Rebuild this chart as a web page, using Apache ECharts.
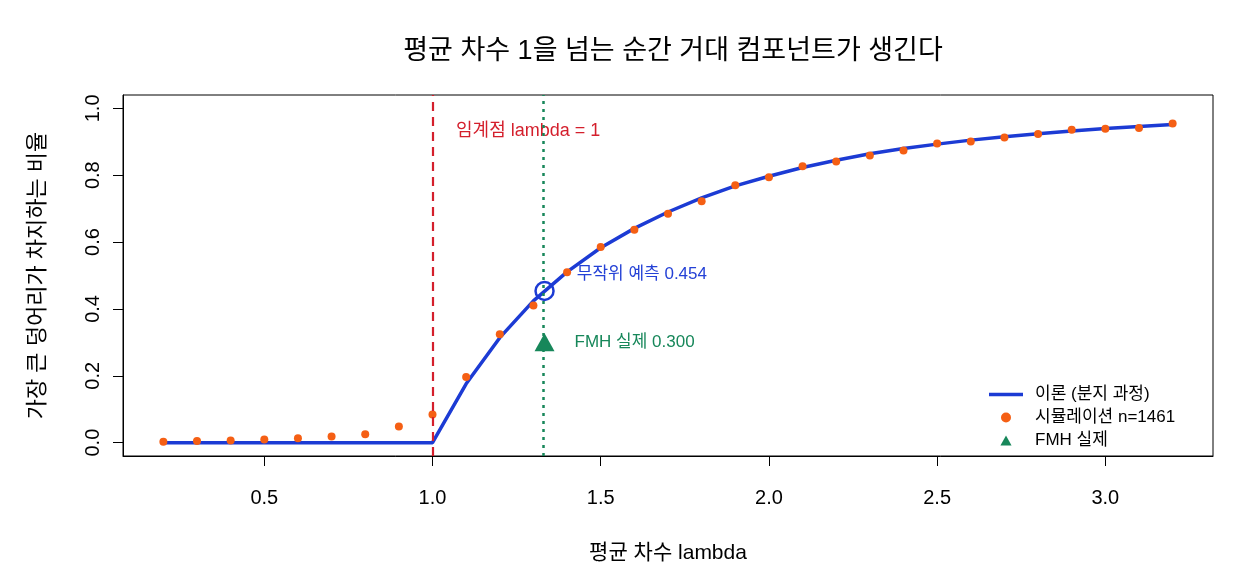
<!DOCTYPE html>
<html lang="ko">
<head>
<meta charset="UTF-8">
<title>거대 컴포넌트</title>
<script src="https://cdn.jsdelivr.net/npm/echarts@6/dist/echarts.min.js"></script>
<style>
  html, body { margin: 0; padding: 0; background: #fff; }
  #main { width: 1240px; height: 580px; }
</style>
</head>
<body>
<div id="main"></div>
<script>
  // 평균 차수 lambda
  var lambdas = [0.2, 0.3, 0.4, 0.5, 0.6, 0.7, 0.8, 0.9, 1.0, 1.1, 1.2, 1.3, 1.4, 1.5, 1.6,
                 1.7, 1.8, 1.9, 2.0, 2.1, 2.2, 2.3, 2.4, 2.5, 2.6, 2.7, 2.8, 2.9, 3.0, 3.1, 3.2];
  // 이론 (분지 과정)
  var theory = [0, 0, 0, 0, 0, 0, 0, 0, 0, 0.176, 0.314, 0.424, 0.511, 0.583, 0.641,
                0.690, 0.732, 0.768, 0.797, 0.823, 0.845, 0.864, 0.880, 0.893, 0.905, 0.915, 0.924, 0.932, 0.940, 0.946, 0.952];
  // 시뮬레이션 n=1461
  var simulated = [0.003, 0.005, 0.006, 0.009, 0.013, 0.018, 0.025, 0.048, 0.084, 0.196, 0.324, 0.410, 0.510, 0.585, 0.637,
                   0.685, 0.722, 0.770, 0.794, 0.827, 0.841, 0.859, 0.874, 0.895, 0.901, 0.913, 0.923, 0.936, 0.939, 0.941, 0.955];
  var fmhLambda = 1.333;
  var randomPred = 0.454;
  var fmhActual = 0.300;
  var xTicks = [0.5, 1.0, 1.5, 2.0, 2.5, 3.0];
  var yTicks = [0.0, 0.2, 0.4, 0.6, 0.8, 1.0];

  var FONT = '"Liberation Sans", "Noto Sans CJK KR", sans-serif';
  var BLUE = '#1c3bd4', ORANGE = '#f55f14', RED = '#d41f2c', GREEN = '#17875a';

  function zip(xs, ys) {
    return xs.map(function (x, i) { return [x, ys[i]]; });
  }

  var chart = echarts.init(document.getElementById('main'));

  var option = {
    backgroundColor: '#fff',
    animation: false,
    textStyle: { fontFamily: FONT },
    title: {
      text: '평균 차수 1을 넘는 순간 거대 컴포넌트가 생긴다',
      left: 668, top: 33, textAlign: 'center',
      textStyle: { fontFamily: FONT, fontSize: 27, fontWeight: 'normal', color: '#000' }
    },
    grid: {
      left: 123, right: 27, top: 95, bottom: 124,
      show: true, borderColor: '#000', borderWidth: 1, backgroundColor: 'transparent'
    },
    legend: {
      orient: 'vertical', left: 984, top: 381,
      itemWidth: 34, itemHeight: 10, itemGap: 6,
      textStyle: { fontFamily: FONT, fontSize: 17, color: '#000', padding: [0, 0, 0, 7] },
      data: [
        { name: '이론 (분지 과정)', icon: 'path://M0,0H34V3.5H0Z' },
        { name: '시뮬레이션 n=1461', icon: 'circle' },
        { name: 'FMH 실제', icon: 'path://M5,0L10,9L0,9Z' }
      ]
    },
    xAxis: {
      type: 'value', min: 0.08, max: 3.32,
      name: '평균 차수 lambda', nameLocation: 'middle', nameGap: 87,
      nameTextStyle: { fontFamily: FONT, fontSize: 21, color: '#000' },
      axisLine: { show: true, onZero: false, lineStyle: { color: '#000', width: 1 } },
      axisTick: { show: true, inside: false, length: 10, customValues: xTicks, lineStyle: { color: '#000' } },
      axisLabel: {
        customValues: xTicks, margin: 32, fontSize: 20, color: '#000', fontFamily: FONT,
        formatter: function (v) { return v.toFixed(1); }
      },
      splitLine: { show: false }
    },
    yAxis: {
      type: 'value', min: -0.04, max: 1.04,
      name: '가장 큰 덩어리가 차지하는 비율', nameLocation: 'middle', nameGap: 74, nameRotate: 90,
      nameTextStyle: { fontFamily: FONT, fontSize: 22, color: '#000' },
      axisLine: { show: true, onZero: false, lineStyle: { color: '#000', width: 1 } },
      axisTick: { show: true, inside: false, length: 10, customValues: yTicks, lineStyle: { color: '#000' } },
      axisLabel: {
        customValues: yTicks, margin: 20, rotate: 90, fontSize: 20, color: '#000', fontFamily: FONT,
        formatter: function (v) { return v.toFixed(1); }
      },
      splitLine: { show: false }
    },
    series: [
      {
        name: '이론 (분지 과정)', type: 'line', data: zip(lambdas, theory),
        symbol: 'none', z: 3,
        lineStyle: { color: BLUE, width: 3.5 }, itemStyle: { color: BLUE },
        markLine: {
          silent: true, symbol: 'none', label: { show: false },
          data: [
            { xAxis: 1.0, lineStyle: { color: RED, width: 2.2, type: [9, 6] } },
            { xAxis: fmhLambda, lineStyle: { color: GREEN, width: 2.5, type: [3, 5] } }
          ]
        }
      },
      {
        name: '시뮬레이션 n=1461', type: 'scatter', data: zip(lambdas, simulated),
        symbol: 'circle', symbolSize: 8, z: 4,
        itemStyle: { color: ORANGE, opacity: 1 }
      },
      {
        name: '무작위 예측', type: 'scatter', data: [[fmhLambda, randomPred]],
        symbol: 'circle', symbolSize: 18, z: 5,
        itemStyle: { color: 'transparent', borderColor: BLUE, borderWidth: 2.5, opacity: 1 },
        label: {
          show: true, position: 'right', distance: 22, offset: [0, -17],
          formatter: '무작위 예측 ' + randomPred.toFixed(3),
          fontFamily: FONT, fontSize: 17, color: '#2441d6'
        }
      },
      {
        name: 'FMH 실제', type: 'scatter', data: [[fmhLambda, fmhActual]],
        symbol: 'triangle', symbolSize: [20, 18], z: 5,
        itemStyle: { color: GREEN, opacity: 1 },
        label: {
          show: true, position: 'right', distance: 20,
          formatter: 'FMH 실제 ' + fmhActual.toFixed(3),
          fontFamily: FONT, fontSize: 17, color: GREEN
        }
      },
      {
        name: '임계점', type: 'scatter', data: [[1.07, 0.931]],
        symbolSize: 0, silent: true, itemStyle: { opacity: 1 },
        label: {
          show: true, position: 'right', distance: 0,
          formatter: '임계점 lambda = 1',
          fontFamily: FONT, fontSize: 18, color: RED
        }
      }
    ]
  };

  chart.setOption(option);
</script>
</body>
</html>
